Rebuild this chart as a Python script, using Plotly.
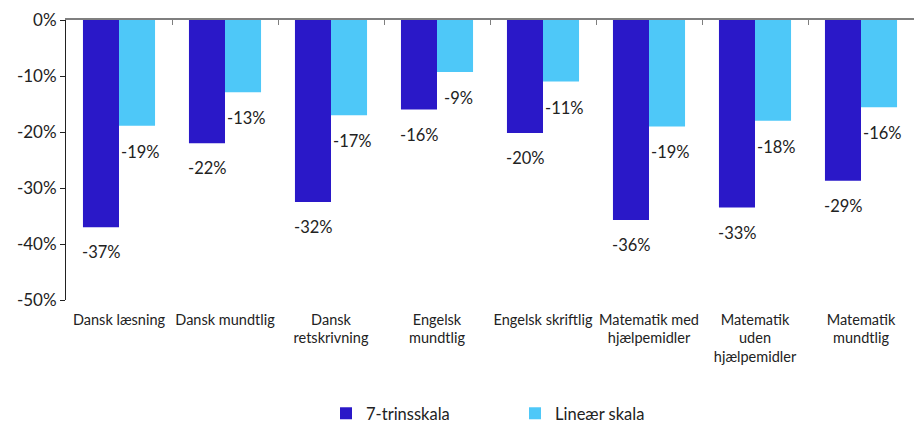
import plotly.graph_objects as go

categories = ["Dansk læsning", "Dansk mundtlig", "Dansk<br>retskrivning", "Engelsk<br>mundtlig",
              "Engelsk skriftlig", "Matematik med<br>hjælpemidler", "Matematik<br>uden<br>hjælpemidler",
              "Matematik<br>mundtlig"]
seven_step = [-37, -22, -32.5, -16, -20.2, -35.7, -33.5, -28.7]
seven_labels = ["-37%", "-22%", "-32%", "-16%", "-20%", "-36%", "-33%", "-29%"]
linear = [-18.9, -12.9, -17, -9.3, -11, -19, -18, -15.6]
linear_labels = ["-19%", "-13%", "-17%", "-9%", "-11%", "-19%", "-18%", "-16%"]
y_ticks = [0, -10, -20, -30, -40, -50]
y_ticklabels = ["0%", "-10%", "-20%", "-30%", "-40%", "-50%"]

DARK = "#2a18c8"
LIGHT = "#4ec8f8"
FONT = "Lato, 'Open Sans', sans-serif"

fig = go.Figure()
fig.add_trace(go.Bar(x=categories, y=seven_step, name="7-trinsskala", marker_color=DARK,
                     marker_line_width=0))
fig.add_trace(go.Bar(x=categories, y=linear, name="Lineær skala", marker_color=LIGHT,
                     marker_line_width=0))
# invisible trace for top axis with boundary ticks
fig.add_trace(go.Scatter(x=categories, y=[0]*len(categories), xaxis="x2", mode="markers",
                         marker=dict(opacity=0), showlegend=False, hoverinfo="skip"))

for c, v, t in zip(categories, seven_step, seven_labels):
    fig.add_annotation(x=c, y=v, text=t, showarrow=False, xshift=-18, yshift=-25,
                       font=dict(size=16.5, color="#222", family=FONT))
for c, v, t in zip(categories, linear, linear_labels):
    fig.add_annotation(x=c, y=v, text=t, showarrow=False, xshift=21, yshift=-26,
                       font=dict(size=16.5, color="#222", family=FONT))

fig.update_layout(
    width=915, height=427,
    margin=dict(l=66, r=1, t=20, b=127, autoexpand=False),
    plot_bgcolor="white", paper_bgcolor="white",
    barmode="group", bargap=0.32, bargroupgap=0,
    font=dict(family=FONT, color="#222"),
    xaxis=dict(type="category", showline=False, ticks="", showgrid=False, automargin=False,
               tickfont=dict(size=14.5, family=FONT, color="#222"), ticklabelstandoff=9),
    xaxis2=dict(type="category", overlaying="x", matches="x", side="top", anchor="y",
                showticklabels=False, ticks="inside", tickson="boundaries", ticklen=5,
                tickcolor="#7f7f7f", showline=True, linecolor="#7f7f7f", linewidth=1.5,
                showgrid=False, automargin=False),
    yaxis=dict(range=[-50, 0], tickvals=y_ticks, ticktext=y_ticklabels, showgrid=False,
               zeroline=False, showline=True, linecolor="#222", linewidth=1, ticks="outside",
               ticklen=5, tickcolor="#222", automargin=False,
               tickfont=dict(size=17, family=FONT, color="#222")),
    legend=dict(orientation="h", x=0.5295, xanchor="center", y=-0.468, yanchor="bottom",
                font=dict(size=16.5, family=FONT, color="#222"), itemwidth=30,
                entrywidth=144, traceorder="normal"),
)

fig.write_html("out.html", config={"displayModeBar": False},
               post_script="document.body.style.margin='0';")
